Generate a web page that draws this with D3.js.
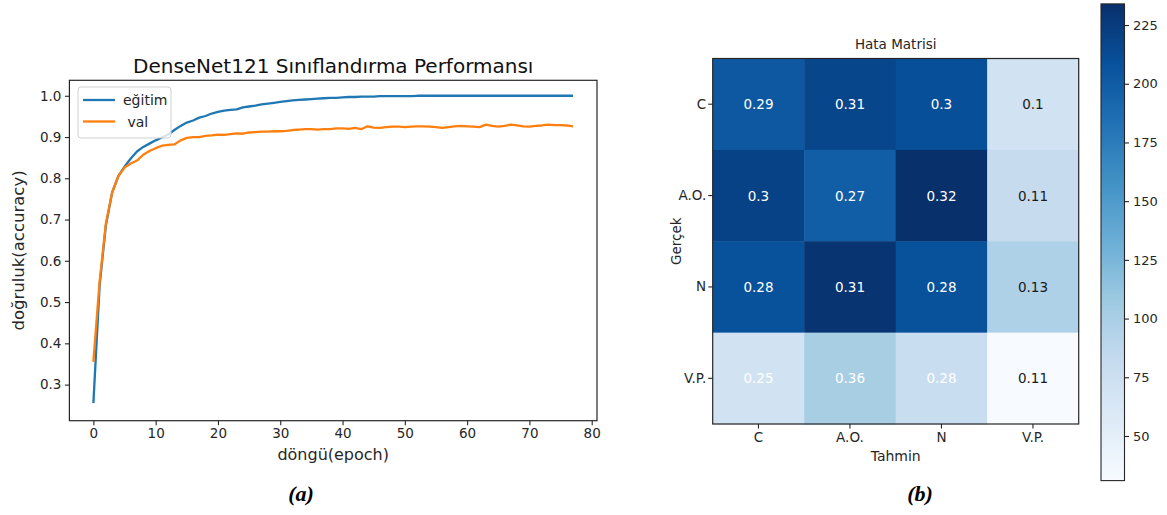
<!DOCTYPE html>
<html><head><meta charset="utf-8">
<script src="https://cdn.jsdelivr.net/npm/d3@7"></script>
<style>
body{margin:0;background:#fff}
svg{display:block}
text{font-family:"DejaVu Sans",sans-serif}
</style>
</head><body>
<svg id="c" width="1167" height="515"></svg>
<script>
// ---------- data: accuracy curves (epoch index 0..77) ----------
const trainAcc = [0.255,0.54,0.685,0.765,0.805,0.828,0.848,0.865,0.876,0.884,
  0.892,0.899,0.906,0.917,0.927,0.935,0.940,0.947,0.951,0.957,
  0.961,0.964,0.966,0.967,0.972,0.974,0.976,0.979,0.981,0.983,
  0.985,0.987,0.989,0.990,0.991,0.992,0.993,0.994,0.995,0.995,
  0.996,0.997,0.997,0.998,0.998,0.998,0.999,0.999,0.999,0.999,
  0.999,0.999,1.0,1.0,1.0,1.0,1.0,1.0,1.0,1.0,
  1.0,1.0,1.0,1.0,1.0,1.0,1.0,1.0,1.0,1.0,
  1.0,1.0,1.0,1.0,1.0,1.0,1.0,1.0];
const valAcc = [0.355,0.55,0.69,0.765,0.805,0.826,0.836,0.843,0.857,0.866,
  0.873,0.879,0.881,0.882,0.892,0.898,0.900,0.900,0.903,0.904,
  0.906,0.905,0.907,0.909,0.908,0.911,0.912,0.913,0.913,0.914,
  0.914,0.915,0.917,0.918,0.919,0.919,0.918,0.919,0.919,0.921,
  0.921,0.920,0.922,0.919,0.926,0.923,0.922,0.924,0.925,0.925,
  0.924,0.925,0.926,0.926,0.925,0.924,0.922,0.924,0.926,0.927,
  0.926,0.925,0.924,0.930,0.927,0.925,0.927,0.930,0.928,0.926,
  0.925,0.927,0.928,0.930,0.929,0.929,0.928,0.926];
const seriesNames = ["eğitim", " val"];
const xTicks = [0,10,20,30,40,50,60,70,80];
const yTicks = [0.3,0.4,0.5,0.6,0.7,0.8,0.9,1.0];

// ---------- data: confusion matrix ----------
const classes = ["C","A.O.","N","V.P."];
const normValues = [[0.29,0.31,0.3,0.1],[0.3,0.27,0.32,0.11],[0.28,0.31,0.28,0.13],[0.25,0.36,0.28,0.11]];
const counts = [[203,217,210,70],[220,198,234,81],[209,231,209,97],[70,101,79,31]];
const cbTicks = [50,75,100,125,150,175,200,225];

const svg = d3.select("#c");
const ink = "#262626";

// ================= left: line chart =================
const xL = d3.scaleLinear().domain([-3.85, 80.85]).range([69.4, 597]);
const yL = d3.scaleLinear().domain([0.2125, 1.0375]).range([420.7, 80.3]);

const gL = svg.append("g");
const line = d3.line().x((d,i)=>xL(i)).y(d=>yL(d));
gL.append("path").datum(trainAcc).attr("d", line).attr("fill","none")
  .attr("stroke","#1f77b4").attr("stroke-width",2.3).attr("stroke-linejoin","round");
gL.append("path").datum(valAcc).attr("d", line).attr("fill","none")
  .attr("stroke","#ff7f0e").attr("stroke-width",2.3).attr("stroke-linejoin","round");

const ax = gL.append("g").attr("transform",`translate(0,${yL.range()[0]})`)
  .call(d3.axisBottom(xL).tickValues(xTicks).tickFormat(d3.format("d")).tickSize(4.5).tickPadding(3.5));
const ay = gL.append("g").attr("transform",`translate(${xL.range()[0]},0)`)
  .call(d3.axisLeft(yL).tickValues(yTicks).tickFormat(d3.format(".1f")).tickSize(4.5).tickPadding(3.5));
[ax, ay].forEach(a=>{
  a.select(".domain").remove();
  a.selectAll("line").attr("stroke",ink).attr("stroke-width",1.1);
  a.selectAll("text").attr("fill",ink).style("font-size","13.5px");
});
gL.append("rect").attr("x",xL.range()[0]).attr("y",yL.range()[1])
  .attr("width",xL.range()[1]-xL.range()[0]).attr("height",yL.range()[0]-yL.range()[1])
  .attr("fill","none").attr("stroke",ink).attr("stroke-width",1.2);

gL.append("text").attr("x",(xL.range()[0]+xL.range()[1])/2).attr("y",73)
  .attr("text-anchor","middle").style("font-size","20px").attr("fill","#111")
  .text("DenseNet121 Sınıflandırma Performansı");
gL.append("text").attr("x",(xL.range()[0]+xL.range()[1])/2).attr("y",460)
  .attr("text-anchor","middle").style("font-size","16px").attr("fill",ink).text("döngü(epoch)");
gL.append("text").attr("transform",`translate(24,${(yL.range()[0]+yL.range()[1])/2}) rotate(-90)`)
  .attr("text-anchor","middle").style("font-size","16.5px").attr("fill",ink).text("doğruluk(accuracy)");

// legend
const lg = gL.append("g");
lg.append("rect").attr("x",78).attr("y",87).attr("width",93).attr("height",51).attr("rx",3)
  .attr("fill","#fff").attr("fill-opacity",0.8).attr("stroke","#d0d0d0").attr("stroke-width",1);
const lcols = ["#1f77b4","#ff7f0e"];
seriesNames.forEach((n,i)=>{
  const yy = 100 + i*21.5;
  lg.append("line").attr("x1",83).attr("x2",115).attr("y1",yy).attr("y2",yy)
    .attr("stroke",lcols[i]).attr("stroke-width",2.3);
  lg.append("text").attr("x",123).attr("y",yy+5).style("font-size","14px").attr("fill",ink)
    .attr("xml:space","preserve").style("white-space","pre").text(n);
});

// ================= right: confusion matrix =================
const flat = counts.flat();
const vmin = d3.min(flat), vmax = d3.max(flat);
const blues = ["#f7fbff","#deebf7","#c6dbef","#9ecae1","#6baed6","#4292c6","#2171b5","#08519c","#08306b"];
const color = d3.scaleLinear().domain(blues.map((b,i)=>vmin + i*(vmax-vmin)/(blues.length-1))).range(blues);

const xH = d3.scaleBand().domain(classes).range([712.7, 1078.7]);
const yH = d3.scaleBand().domain(classes).range([58.5, 424]);
const gH = svg.append("g");
const thresh = d3.max(normValues.flat())/2;
classes.forEach((r,i)=>{
  classes.forEach((c,j)=>{
    gH.append("rect").attr("x",xH(c)).attr("y",yH(r)).attr("width",xH.bandwidth()+0.5).attr("height",yH.bandwidth()+0.5)
      .attr("fill",color(counts[i][j]));
    gH.append("text").attr("x",xH(c)+xH.bandwidth()/2).attr("y",yH(r)+yH.bandwidth()/2+5)
      .attr("text-anchor","middle").style("font-size","13.5px")
      .attr("fill", normValues[i][j] > thresh ? "#fff" : "#1a1a1a").text(normValues[i][j]);
  });
});
gH.append("rect").attr("x",xH.range()[0]).attr("y",yH.range()[0])
  .attr("width",xH.range()[1]-xH.range()[0]).attr("height",yH.range()[1]-yH.range()[0])
  .attr("fill","none").attr("stroke",ink).attr("stroke-width",1.2);
const hx = gH.append("g").attr("transform",`translate(0,${yH.range()[1]})`)
  .call(d3.axisBottom(xH).tickSize(4.5).tickPadding(4));
const hy = gH.append("g").attr("transform",`translate(${xH.range()[0]},0)`)
  .call(d3.axisLeft(yH).tickSize(4.5).tickPadding(2));
[hx,hy].forEach(a=>{
  a.select(".domain").remove();
  a.selectAll("line").attr("stroke",ink).attr("stroke-width",1.1);
  a.selectAll("text").attr("fill",ink).style("font-size","13.5px");
});
gH.append("text").attr("x",(xH.range()[0]+xH.range()[1])/2).attr("y",49)
  .attr("text-anchor","middle").style("font-size","13.5px").attr("fill",ink).text("Hata Matrisi");
gH.append("text").attr("x",(xH.range()[0]+xH.range()[1])/2).attr("y",461)
  .attr("text-anchor","middle").style("font-size","14px").attr("fill",ink).text("Tahmin");
gH.append("text").attr("transform",`translate(681,${(yH.range()[0]+yH.range()[1])/2}) rotate(-90)`)
  .attr("text-anchor","middle").style("font-size","13.5px").attr("fill",ink).text("Gerçek");

// colorbar
const cbX = 1101, cbW = 23.5;
const cbY = d3.scaleLinear().domain([vmin, vmax]).range([480.6, 3.9]);
const defs = svg.append("defs");
const grad = defs.append("linearGradient").attr("id","cbg").attr("x1",0).attr("y1",1).attr("x2",0).attr("y2",0);
color.domain().forEach((v,i)=>{
  grad.append("stop").attr("offset",(v-vmin)/(vmax-vmin)).attr("stop-color",color(v));
});
const gC = svg.append("g");
gC.append("rect").attr("x",cbX).attr("y",cbY(vmax)).attr("width",cbW).attr("height",cbY(vmin)-cbY(vmax))
  .attr("fill","url(#cbg)").attr("stroke",ink).attr("stroke-width",1.1);
const cax = gC.append("g").attr("transform",`translate(${cbX+cbW},0)`)
  .call(d3.axisRight(cbY).tickValues(cbTicks).tickSize(4.5).tickPadding(4));
cax.select(".domain").remove();
cax.selectAll("line").attr("stroke",ink).attr("stroke-width",1.1);
cax.selectAll("text").attr("fill",ink).style("font-size","13px");

// captions
svg.append("text").attr("x",301).attr("y",501).attr("text-anchor","middle")
  .style("font-family","'Liberation Serif','Times New Roman',serif").style("font-weight","bold").style("font-style","italic")
  .style("font-size","22px").attr("fill","#000").text("(a)");
svg.append("text").attr("x",920).attr("y",501).attr("text-anchor","middle")
  .style("font-family","'Liberation Serif','Times New Roman',serif").style("font-weight","bold").style("font-style","italic")
  .style("font-size","22px").attr("fill","#000").text("(b)");
</script>
</body></html>
